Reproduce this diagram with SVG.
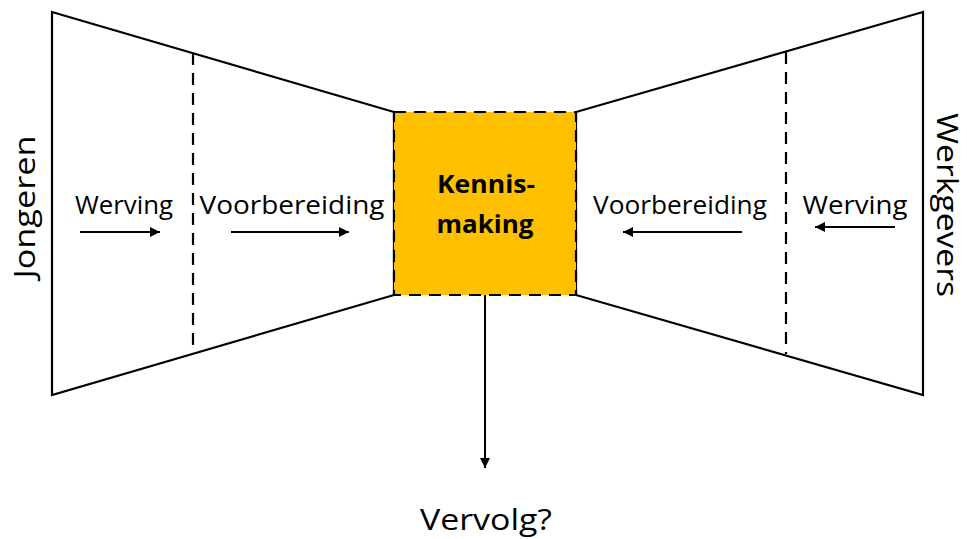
<svg xmlns="http://www.w3.org/2000/svg" width="967" height="539" viewBox="0 0 967 539">
  <style>
    .edge { fill: #fff; stroke: #000; stroke-width: 2.2; stroke-linejoin: miter; }
    .dash { fill: none; stroke: #000; stroke-width: 2.2; stroke-dasharray: 12 8; }
    .block { fill: #FFC000; stroke: #000; stroke-width: 2.2; stroke-dasharray: 12 8; }
    .lbl { font-family: "Open Sans", "Liberation Sans", sans-serif; font-size: 26px; fill: #000; }
    .side { font-family: "Open Sans", "Liberation Sans", sans-serif; font-size: 30px; fill: #000; }
    .core { font-family: "Open Sans", "Liberation Sans", sans-serif; font-size: 25px; font-weight: bold; fill: #000; }
    .arrow { stroke: #000; stroke-width: 2; fill: none; marker-end: url(#head); }
  </style>
  <defs>
    <marker id="head" viewBox="0 0 10 10" refX="10" refY="5" markerWidth="5" markerHeight="5" orient="auto" markerUnits="strokeWidth">
      <path d="M0,0 L10,5 L0,10 Z" fill="#000"/>
    </marker>
  </defs>

  <!-- left funnel: young people side -->
  <g id="funnel-left">
    <polygon class="edge" points="52,12 394,112 394,295 52,395"/>
    <line class="dash" x1="193" y1="53" x2="193" y2="353"/>
  </g>

  <!-- right funnel: employers side -->
  <g id="funnel-right">
    <polygon class="edge" points="923,12 576,112 576,295 923,395"/>
    <line class="dash" x1="786" y1="52" x2="786" y2="354"/>
  </g>

  <!-- central meeting block -->
  <g id="kennismaking">
    <rect class="block" x="394" y="112" width="182" height="183"/>
    <text class="core" x="486" y="193" text-anchor="middle" textLength="98" lengthAdjust="spacingAndGlyphs">Kennis-</text>
    <text class="core" x="485" y="233" text-anchor="middle" textLength="97" lengthAdjust="spacingAndGlyphs">making</text>
  </g>

  <g id="jongeren">
    <text class="side" transform="translate(35,207) rotate(-90)" text-anchor="middle" textLength="143" lengthAdjust="spacingAndGlyphs">Jongeren</text>
  </g>
  <g id="werkgevers">
    <text class="side" transform="translate(937,205) rotate(90)" text-anchor="middle" textLength="184" lengthAdjust="spacingAndGlyphs" style="font-size:29px">Werkgevers</text>
  </g>

  <g id="werving-left">
    <text class="lbl" x="124" y="214" text-anchor="middle" textLength="98" lengthAdjust="spacingAndGlyphs">Werving</text>
  </g>
  <g id="voorbereiding-left">
    <text class="lbl" x="292" y="214" text-anchor="middle" textLength="185" lengthAdjust="spacingAndGlyphs">Voorbereiding</text>
  </g>
  <g id="voorbereiding-right">
    <text class="lbl" x="680" y="214" text-anchor="middle" textLength="174" lengthAdjust="spacingAndGlyphs">Voorbereiding</text>
  </g>
  <g id="werving-right">
    <text class="lbl" x="855" y="214" text-anchor="middle" textLength="105" lengthAdjust="spacingAndGlyphs">Werving</text>
  </g>

  <g id="vervolg">
    <text class="side" x="486" y="530" text-anchor="middle" textLength="132" lengthAdjust="spacingAndGlyphs">Vervolg?</text>
  </g>

  <!-- flow arrows -->
  <g id="connectors">
    <line class="arrow" x1="80" y1="232" x2="160" y2="232"/>
    <line class="arrow" x1="231" y1="232" x2="349" y2="232"/>
    <line class="arrow" x1="742" y1="232" x2="623" y2="232"/>
    <line class="arrow" x1="895" y1="227" x2="815" y2="227"/>
    <line class="arrow" x1="485" y1="295" x2="485" y2="468"/>
  </g>
</svg>
